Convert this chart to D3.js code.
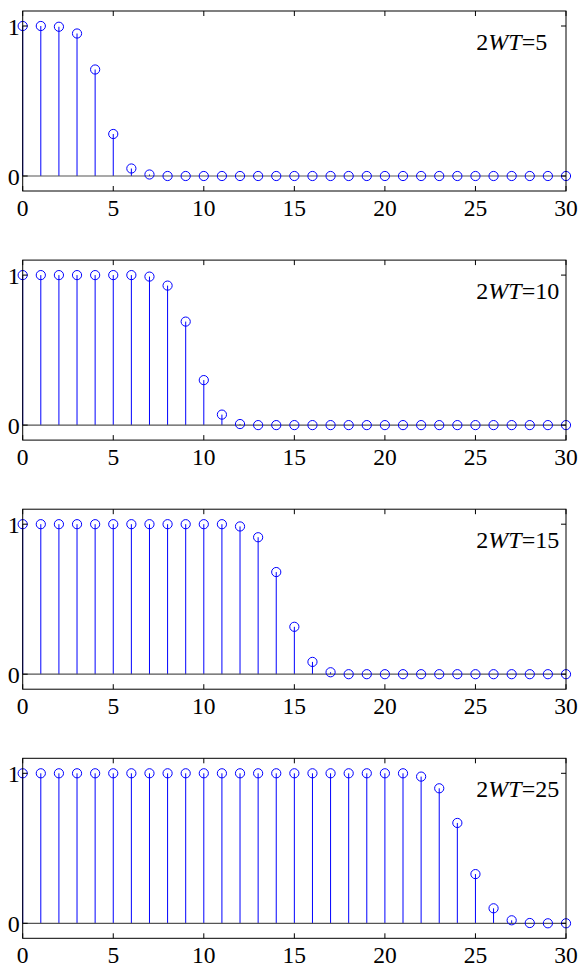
<!DOCTYPE html>
<html>
<head>
<meta charset="utf-8">
<script src="https://cdnjs.cloudflare.com/ajax/libs/d3/7.8.5/d3.min.js"></script>
<style>
  body { margin: 0; background: #fff; }
  text { font-family: "Liberation Serif", "Times New Roman", serif; }
</style>
</head>
<body>
<div id="chart"></div>
<script>
// sample index n = 0..30
const n = [0,1,2,3,4,5,6,7,8,9,10,11,12,13,14,15,16,17,18,19,20,21,22,23,24,25,26,27,28,29,30];

// 2WT values, one per panel
const wtLabels = ["5", "10", "15", "25"];

const wt5 = [1, 1, 0.995, 0.95, 0.71, 0.28, 0.05, 0.01, 0, 0,
             0, 0, 0, 0, 0, 0, 0, 0, 0, 0,
             0, 0, 0, 0, 0, 0, 0, 0, 0, 0, 0];
const wt10 = [1, 1, 1, 1, 1, 1, 1, 0.99, 0.93, 0.69,
              0.30, 0.07, 0.007, 0, 0, 0, 0, 0, 0, 0,
              0, 0, 0, 0, 0, 0, 0, 0, 0, 0, 0];
const wt15 = [1, 1, 1, 1, 1, 1, 1, 1, 1, 1,
              1, 1, 0.985, 0.913, 0.681, 0.316, 0.082, 0.013, 0, 0,
              0, 0, 0, 0, 0, 0, 0, 0, 0, 0, 0];
const wt25 = [1, 1, 1, 1, 1, 1, 1, 1, 1, 1,
              1, 1, 1, 1, 1, 1, 1, 1, 1, 1,
              1, 1, 0.978, 0.9, 0.669, 0.328, 0.1, 0.02, 0.002, 0, 0];

const series = [wt5, wt10, wt15, wt25];

const xTicks = [0, 5, 10, 15, 20, 25, 30];
const yTicks = [0, 1];

// layout
const W = 581, H = 965;
const left = 22.7, right = 566;
const panelH = 180;
const panelTop0 = 11, panelStep = 249.1;
const tickLen = 5;

const svg = d3.select("#chart")
  .append("svg")
    .attr("width", W)
    .attr("height", H);

const x = d3.scaleLinear().domain([0, 30]).range([left, right]);

series.forEach((vals, i) => {
  const top = panelTop0 + i * panelStep;
  const bottom = top + panelH;
  const y = d3.scaleLinear().domain([-0.1, 1.1]).range([bottom, top]);

  const g = svg.append("g");
  const data = n.map((k, j) => ({ n: k, v: vals[j] }));

  // stems
  g.selectAll(".stem")
    .data(data)
    .join("line")
      .attr("x1", d => x(d.n))
      .attr("x2", d => x(d.n))
      .attr("y1", y(0))
      .attr("y2", d => y(d.v))
      .attr("stroke", "#0000ff")
      .attr("stroke-width", 1);

  // baseline
  g.append("line")
    .attr("x1", x(0)).attr("x2", x(30))
    .attr("y1", y(0)).attr("y2", y(0))
    .attr("stroke", "#555")
    .attr("stroke-width", 1.2);

  // markers
  g.selectAll(".mark")
    .data(data)
    .join("circle")
      .attr("cx", d => x(d.n))
      .attr("cy", d => y(d.v))
      .attr("r", 4.6)
      .attr("fill", "none")
      .attr("stroke", "#0000ff")
      .attr("stroke-width", 1);

  // box
  g.append("rect")
    .attr("x", left).attr("y", top)
    .attr("width", right - left).attr("height", panelH)
    .attr("fill", "none")
    .attr("stroke", "#000")
    .attr("stroke-width", 1);

  // x ticks (inward, top and bottom)
  xTicks.forEach(t => {
    g.append("line")
      .attr("x1", x(t)).attr("x2", x(t))
      .attr("y1", bottom).attr("y2", bottom - tickLen)
      .attr("stroke", "#000");
    g.append("line")
      .attr("x1", x(t)).attr("x2", x(t))
      .attr("y1", top).attr("y2", top + tickLen)
      .attr("stroke", "#000");
    g.append("text")
      .attr("x", x(t))
      .attr("y", bottom + 24.5)
      .attr("text-anchor", "middle")
      .attr("font-size", 23.5)
      .text(t);
  });

  // y ticks (inward, left and right)
  yTicks.forEach(t => {
    g.append("line")
      .attr("x1", left).attr("x2", left + tickLen)
      .attr("y1", y(t)).attr("y2", y(t))
      .attr("stroke", "#000");
    g.append("line")
      .attr("x1", right).attr("x2", right - tickLen)
      .attr("y1", y(t)).attr("y2", y(t))
      .attr("stroke", "#000");
    g.append("text")
      .attr("x", left - 3)
      .attr("y", y(t) + 8.5)
      .attr("text-anchor", "end")
      .attr("font-size", 24)
      .text(t);
  });

  // panel label
  const lbl = g.append("text")
    .attr("x", x(25.05))
    .attr("y", y(0.84))
    .attr("font-size", 24);
  lbl.append("tspan").text("2");
  lbl.append("tspan").attr("font-style", "italic").text("WT");
  lbl.append("tspan").text("=" + wtLabels[i]);
});
</script>
</body>
</html>
